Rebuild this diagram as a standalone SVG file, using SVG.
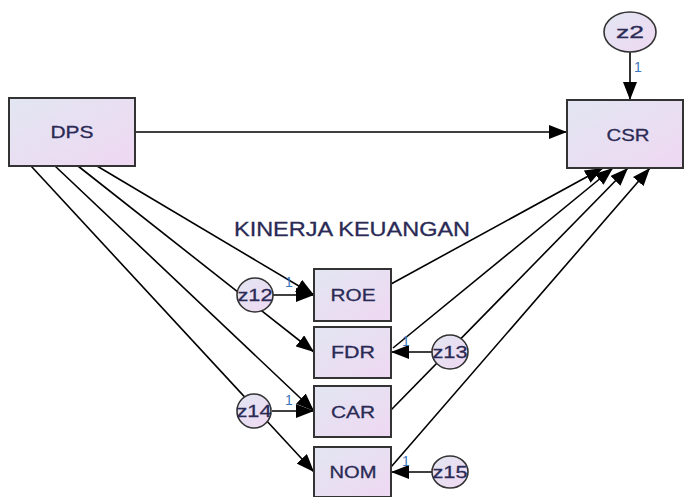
<svg xmlns="http://www.w3.org/2000/svg" width="686" height="497" viewBox="0 0 686 497">
<defs>
<linearGradient id="g" x1="0" y1="0" x2="1" y2="1">
<stop offset="0" stop-color="#e2e6f2"/>
<stop offset="1" stop-color="#efd8f2"/>
</linearGradient>
<marker id="ah" markerUnits="userSpaceOnUse" markerWidth="18" markerHeight="14" viewBox="0 0 18 14" refX="18" refY="7" orient="auto">
<path d="M0,0 L18,7 L0,14 Z" fill="#000"/>
</marker>
<style>
.box{fill:url(#g);stroke:#333;stroke-width:2}
.ell{fill:url(#g);stroke:#333;stroke-width:1.6}
.lbl{font-family:"Liberation Sans",Arial,sans-serif;font-size:17px;fill:#2a2a55;text-anchor:middle;stroke:#2a2a55;stroke-width:0.3}
.el{font-family:"Liberation Sans",Arial,sans-serif;font-size:17px;fill:#2a2a55;text-anchor:middle;stroke:#2a2a55;stroke-width:0.3}
.one{font-family:"Liberation Sans",Arial,sans-serif;font-size:14px;fill:#3a78c0;text-anchor:middle}
.ln{stroke:#000;stroke-width:1.6;fill:none;marker-end:url(#ah)}
.title{font-family:"Liberation Sans",Arial,sans-serif;font-size:20px;fill:#2a2a55;stroke:#2a2a55;stroke-width:0.3}
</style>
</defs>
<g id="connectors">
<line class="ln" x1="135" y1="132" x2="567" y2="132"/>
<line class="ln" x1="630" y1="52" x2="630" y2="100"/>
<line class="ln" x1="97" y1="166" x2="314" y2="295"/>
<line class="ln" x1="78" y1="166" x2="314" y2="352"/>
<line class="ln" x1="55" y1="166" x2="314" y2="411"/>
<line class="ln" x1="31" y1="166" x2="314" y2="472"/>
<line class="ln" x1="273" y1="295" x2="314" y2="295"/>
<line class="ln" x1="272" y1="411" x2="314" y2="411"/>
<line class="ln" x1="432" y1="352" x2="391" y2="352"/>
<line class="ln" x1="432" y1="472" x2="391" y2="472"/>
<line class="ln" x1="391" y1="284" x2="603" y2="168"/>
<line class="ln" x1="393" y1="348" x2="613" y2="168"/>
<line class="ln" x1="391" y1="410" x2="628" y2="168"/>
<line class="ln" x1="391" y1="467" x2="650" y2="168"/>
<text class="one" x="638" y="72">1</text>
<text class="one" x="289" y="287">1</text>
<text class="one" x="289" y="405">1</text>
<text class="one" x="406" y="346">1</text>
<text class="one" x="406" y="466">1</text>
</g>
<g id="DPS">
<rect class="box" x="9" y="98" width="126" height="68"/>
<text class="lbl" x="72" y="138" textLength="43" lengthAdjust="spacingAndGlyphs">DPS</text>
</g>
<g id="CSR">
<rect class="box" x="567" y="100" width="116" height="68"/>
<text class="lbl" x="628" y="141" textLength="43" lengthAdjust="spacingAndGlyphs">CSR</text>
</g>
<g id="z2">
<ellipse class="ell" cx="630" cy="32" rx="26" ry="20"/>
<text class="el" x="630" y="38" textLength="28" lengthAdjust="spacingAndGlyphs">z2</text>
</g>
<g id="title">
<text class="title" x="234" y="236" textLength="236" lengthAdjust="spacingAndGlyphs">KINERJA KEUANGAN</text>
</g>
<g id="ROE">
<rect class="box" x="314" y="269" width="77" height="52"/>
<text class="lbl" x="353" y="301" textLength="45" lengthAdjust="spacingAndGlyphs">ROE</text>
</g>
<g id="FDR">
<rect class="box" x="314" y="327" width="77" height="51"/>
<text class="lbl" x="353" y="358" textLength="44" lengthAdjust="spacingAndGlyphs">FDR</text>
</g>
<g id="CAR">
<rect class="box" x="314" y="386" width="77" height="51"/>
<text class="lbl" x="353" y="418" textLength="44" lengthAdjust="spacingAndGlyphs">CAR</text>
</g>
<g id="NOM">
<rect class="box" x="314" y="447" width="77" height="50"/>
<text class="lbl" x="353" y="478" textLength="47" lengthAdjust="spacingAndGlyphs">NOM</text>
</g>
<g id="z12">
<ellipse class="ell" cx="255" cy="295" rx="18" ry="17"/>
<text class="el" x="255" y="301" textLength="35" lengthAdjust="spacingAndGlyphs">z12</text>
</g>
<g id="z14">
<ellipse class="ell" cx="254" cy="411" rx="17" ry="17"/>
<text class="el" x="254" y="417" textLength="35" lengthAdjust="spacingAndGlyphs">z14</text>
</g>
<g id="z13">
<ellipse class="ell" cx="450" cy="352" rx="18" ry="17"/>
<text class="el" x="450" y="358" textLength="35" lengthAdjust="spacingAndGlyphs">z13</text>
</g>
<g id="z15">
<ellipse class="ell" cx="450" cy="472" rx="18" ry="16"/>
<text class="el" x="450" y="478" textLength="35" lengthAdjust="spacingAndGlyphs">z15</text>
</g>
</svg>
